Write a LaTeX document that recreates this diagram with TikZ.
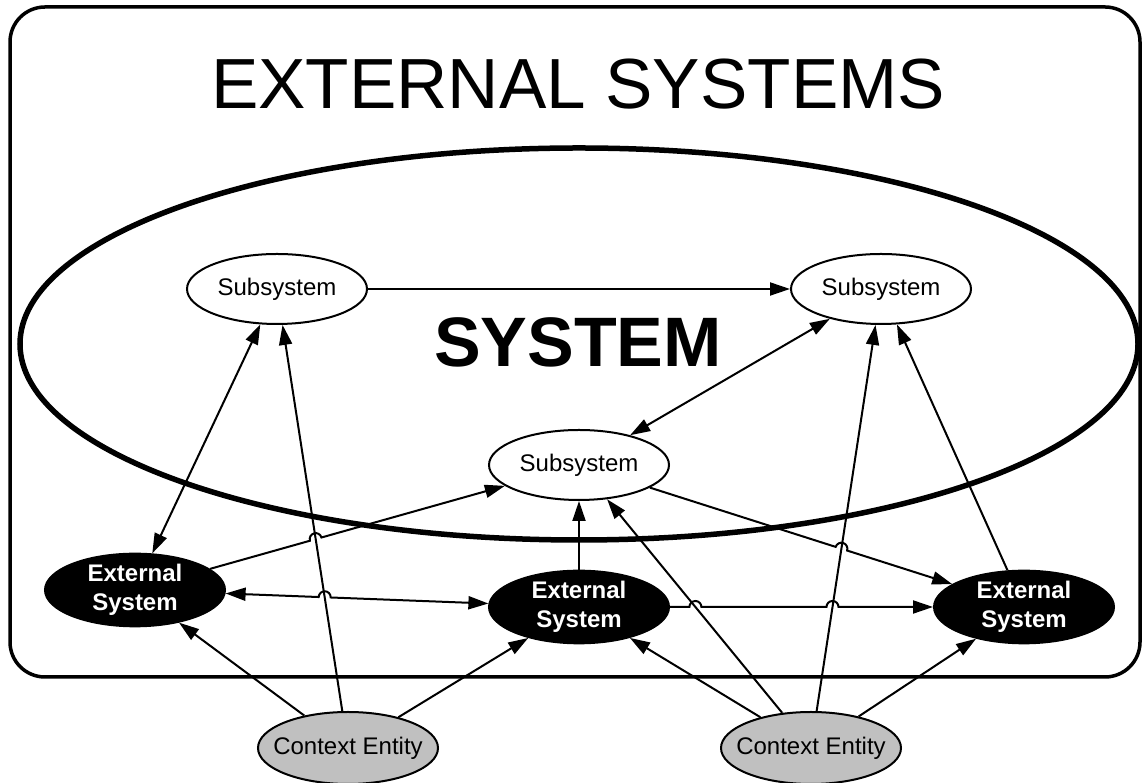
\documentclass[tikz,border=0pt]{standalone}
\usepackage{fontspec}
\setmainfont{Liberation Sans}
\usetikzlibrary{arrows.meta,calc,intersections,shapes.geometric}
\definecolor{ctxgray}{RGB}{192,192,192}
\def\hopr{6pt}
\begin{document}
\begin{tikzpicture}[x=1pt,y=1pt,
  subsys/.style={ellipse, draw, line width=2pt, minimum width=180pt, minimum height=70pt,
    inner sep=0pt, font=\fontsize{24}{29}\selectfont},
  extsys/.style={ellipse, draw, fill=black, text=white, line width=2pt, minimum width=180pt,
    minimum height=72pt, inner sep=0pt, align=center, font=\bfseries\fontsize{24}{29}\selectfont},
  ctx/.style={ellipse, draw, fill=ctxgray, line width=2pt, minimum width=180pt,
    minimum height=72pt, inner sep=-25pt, font=\fontsize{24}{29}\selectfont},
  conn/.style={line width=2pt},
  arr/.style={-{Triangle[length=20pt,width=13pt]}},
  biarr/.style={{Triangle[length=20pt,width=13pt]}-{Triangle[length=20pt,width=13pt]}},
]
\useasboundingbox (0,0) rectangle (1143,783);

% frame of the environment and its title
\draw[line width=3.5pt, rounded corners=35pt] (10,106) rectangle (1140,776);
\node[font=\fontsize{71}{80}\selectfont, anchor=base] (title) at (578,674) {EXTERNAL SYSTEMS};

% system boundary
\node[ellipse, draw, line width=5.5pt, minimum width=1118pt, minimum height=392pt, inner sep=0pt]
  (boundary) at (579,439) {};
\node[font=\bfseries\fontsize{70}{80}\selectfont, anchor=base] (sysname) at (578,416) {SYSTEM};

% nodes
\node[subsys] (S1) at (277,494) {Subsystem};
\node[subsys] (S2) at (881,494) {Subsystem};
\node[subsys] (S3) at (579,318) {Subsystem};
\node[extsys] (E1) at (135,193) {External\\System};
\node[extsys] (E2) at (579,176) {External\\System};
\node[extsys] (E3) at (1024,176) {External\\System};
\node[ctx] (C1) at (348,35) {Context Entity};
\node[ctx] (C2) at (811,35) {Context Entity};

% crossing points for line hops
\path[name path=pc1s1] (C1.center) -- (S1.center);
\path[name path=pc2s2] (C2.center) -- (S2.center);
\path[name path=pc2s3] (C2.center) -- (S3.center);
\path[name path=pe1s3] (E1.center) -- (S3.center);
\path[name path=pe1e2] (E1.center) -- (E2.center);
\path[name path=ps3e3] (S3.center) -- (E3.center);
\path[name path=pe2e3] (E2.center) -- (E3.center);
\path[name intersections={of=pe1s3 and pc1s1, by=xa}];
\path[name intersections={of=pe1e2 and pc1s1, by=xb}];
\path[name intersections={of=ps3e3 and pc2s2, by=xc}];
\path[name intersections={of=pe2e3 and pc2s3, by=xd}];
\path[name intersections={of=pe2e3 and pc2s2, by=xe}];

% connectors with hops
\draw[conn,arr] let \p1=($(S3)-(E1)$), \n1={atan2(\y1,\x1)} in
  (E1) -- ($(xa)!\hopr!(E1)$) arc[start angle=\n1+180, end angle=\n1, radius=\hopr] -- (S3);
\draw[conn,biarr] let \p1=($(E2)-(E1)$), \n1={atan2(\y1,\x1)} in
  (E1) -- ($(xb)!\hopr!(E1)$) arc[start angle=\n1+180, end angle=\n1, radius=\hopr] -- (E2);
\draw[conn,arr] let \p1=($(E3)-(S3)$), \n1={atan2(\y1,\x1)} in
  (S3) -- ($(xc)!\hopr!(S3)$) arc[start angle=\n1+180, end angle=\n1, radius=\hopr] -- (E3);
\draw[conn,arr] let \p1=($(E3)-(E2)$), \n1={atan2(\y1,\x1)} in
  (E2) -- ($(xd)!\hopr!(E2)$) arc[start angle=\n1+180, end angle=\n1, radius=\hopr]
  -- ($(xe)!\hopr!(E2)$) arc[start angle=\n1+180, end angle=\n1, radius=\hopr] -- (E3);

% plain connectors
\draw[conn,arr] (S1) -- (S2);
\draw[conn,biarr] (E1) -- (S1);
\draw[conn,biarr] (S3) -- (S2);
\draw[conn,arr] (E2) -- (S3);
\draw[conn,arr] (E3) -- (S2);
\draw[conn,arr] (C1) -- (S1);
\draw[conn,arr] (C1) -- (E1);
\draw[conn,arr] (C1) -- (E2);
\draw[conn,arr] (C2) -- (E2);
\draw[conn,arr] (C2) -- (S3);
\draw[conn,arr] (C2) -- (S2);
\draw[conn,arr] (C2) -- (E3);
\end{tikzpicture}
\end{document}
